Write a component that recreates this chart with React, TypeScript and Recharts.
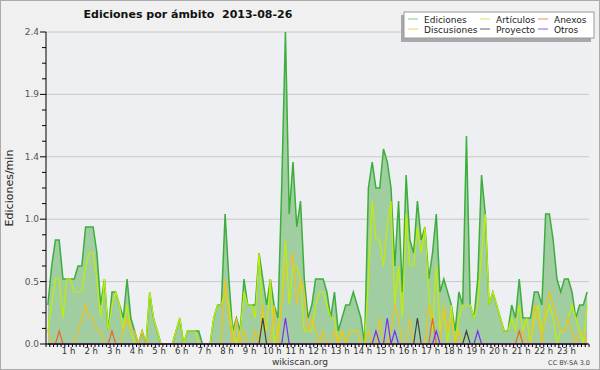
import React from "react";
import { ComposedChart, Area, Line, XAxis, YAxis, CartesianGrid } from "recharts";

// one value per 10 minutes, 00:00 -> 24:00 (edits per minute)
const ediciones = [
  0.3, 0.6, 0.8, 0.8, 0.5, 0.5, 0.5, 0.5, 0.6, 0.6, 0.9, 0.9,
  0.9, 0.7, 0.3, 0.5, 0.1, 0.4, 0.4, 0.3, 0.2, 0.5, 0.2, 0.1,
  0, 0.1, 0, 0.4, 0.2, 0.1, 0, 0, 0, 0, 0.1, 0.2,
  0, 0.1, 0.1, 0.1, 0.1, 0, 0, 0, 0.2, 0.3, 0.3, 1.0,
  0.5, 0.1, 0.2, 0.1, 0.5, 0.3, 0.3, 0.3, 0.7, 0.5, 0.3, 0.5,
  0.3, 0.2, 1.2, 2.4, 1.0, 1.4, 0.9, 1.1, 0.5, 0.2, 0.3, 0.5,
  0.5, 0.5, 0.4, 0.2, 0.4, 0.1, 0.2, 0.3, 0.3, 0.4, 0.3, 0.2,
  0, 1.2, 1.4, 1.2, 1.2, 1.5, 1.4, 1.2, 0.6, 1.1, 0.4, 1.3,
  0.8, 0.7, 1.1, 0.8, 0.9, 0.5, 0.7, 1.0, 0.4, 0.5, 0.4, 0.3,
  0.1, 0.4, 0.3, 1.6, 0.3, 0.2, 0.5, 1.3, 1.0, 0.3, 0.4, 0.3,
  0.2, 0.1, 0.1, 0.3, 0.2, 0.5, 0.2, 0.2, 0.2, 0.4, 0.4, 0.3,
  1.0, 1.0, 0.8, 0.5, 0.4, 0.5, 0.5, 0.4, 0.2, 0.3, 0.3, 0.4,
];

const articulos = [
  0.1, 0.3, 0.5, 0.5, 0.2, 0.5, 0.5, 0.4, 0.4, 0.4, 0.6, 0.7,
  0.7, 0.5, 0.2, 0.5, 0.1, 0.3, 0.4, 0.3, 0.1, 0.3, 0.1, 0,
  0, 0, 0, 0.4, 0.2, 0.1, 0, 0, 0, 0, 0.1, 0.2,
  0, 0.1, 0.1, 0.1, 0, 0, 0, 0, 0.2, 0.3, 0.3, 0.4,
  0.3, 0.1, 0, 0.1, 0.4, 0.3, 0.3, 0.2, 0.7, 0.2, 0.1, 0.5,
  0, 0.1, 0.3, 0.8, 0.3, 0.6, 0.6, 0.5, 0.1, 0.1, 0.1, 0.3,
  0.4, 0.4, 0.3, 0.2, 0.2, 0, 0.1, 0, 0.1, 0.1, 0.1, 0,
  0, 0.5, 1.1, 0.8, 0.8, 0.6, 0.9, 1.1, 0.3, 0.6, 0.2, 1.0,
  0.6, 0.6, 0.9, 0.7, 0.9, 0.4, 0.1, 0.6, 0.1, 0.3, 0, 0.3,
  0, 0.2, 0.3, 0.3, 0.3, 0.2, 0.3, 0.7, 1.0, 0.3, 0.4, 0.3,
  0.2, 0.1, 0.1, 0.2, 0.1, 0.3, 0.1, 0.2, 0, 0.2, 0.3, 0.1,
  0.2, 0.3, 0.2, 0, 0.1, 0.1, 0.2, 0.3, 0.2, 0.1, 0, 0.3,
];

const discusiones = [
  0.1, 0, 0, 0, 0, 0, 0, 0, 0.1, 0.2, 0.3, 0.2,
  0.2, 0.1, 0.1, 0, 0, 0, 0, 0, 0.1, 0.2, 0.1, 0.1,
  0, 0.1, 0, 0, 0, 0, 0, 0, 0, 0, 0, 0,
  0, 0, 0, 0, 0, 0, 0, 0, 0, 0, 0, 0.5,
  0.2, 0, 0.2, 0, 0.1, 0, 0, 0.1, 0, 0.3, 0, 0,
  0.3, 0, 0.3, 0.6, 0.6, 0.7, 0.3, 0.5, 0.4, 0.1, 0.2, 0.1,
  0, 0.1, 0, 0, 0.1, 0, 0.1, 0, 0.1, 0.1, 0.1, 0,
  0, 0.1, 0, 0, 0.2, 0, 0, 0.1, 0.3, 0.2, 0, 0,
  0.2, 0, 0, 0, 0, 0.3, 0.2, 0, 0, 0.3, 0.1, 0.2,
  0, 0.1, 0, 0, 0, 0, 0, 0, 0, 0, 0, 0,
  0, 0, 0, 0, 0, 0.1, 0.1, 0, 0, 0.3, 0.2, 0,
  0.3, 0.4, 0.3, 0.2, 0.1, 0.1, 0.2, 0.1, 0, 0.1, 0.1, 0,
];

const anexos = [
  0, 0, 0, 0.1, 0, 0, 0, 0, 0, 0, 0, 0,
  0, 0, 0, 0, 0, 0.1, 0, 0, 0, 0, 0, 0,
  0, 0, 0, 0, 0, 0, 0, 0, 0, 0, 0, 0,
  0, 0, 0, 0, 0, 0, 0, 0, 0, 0, 0, 0,
  0, 0, 0, 0, 0, 0, 0, 0, 0, 0, 0, 0,
  0, 0, 0, 0, 0, 0, 0, 0, 0, 0, 0, 0,
  0, 0, 0, 0, 0, 0, 0, 0, 0, 0, 0, 0,
  0, 0, 0, 0, 0, 0, 0, 0, 0, 0, 0, 0,
  0, 0, 0, 0, 0, 0, 0.2, 0, 0, 0, 0, 0,
  0, 0, 0, 0, 0, 0, 0, 0, 0, 0, 0, 0,
  0, 0, 0, 0, 0, 0.1, 0, 0, 0, 0, 0, 0,
  0, 0, 0, 0, 0, 0, 0, 0, 0, 0, 0, 0,
];

const proyecto = [
  0, 0, 0, 0, 0, 0, 0, 0, 0, 0, 0, 0,
  0, 0, 0, 0, 0, 0, 0, 0, 0, 0, 0, 0,
  0, 0, 0, 0, 0, 0, 0, 0, 0, 0, 0, 0,
  0, 0, 0, 0, 0, 0, 0, 0, 0, 0, 0, 0,
  0, 0, 0, 0, 0, 0, 0, 0, 0, 0.2, 0, 0,
  0, 0, 0, 0, 0, 0, 0, 0, 0, 0, 0, 0,
  0, 0, 0, 0, 0, 0, 0, 0, 0, 0, 0, 0,
  0, 0, 0, 0, 0, 0, 0, 0, 0, 0, 0, 0,
  0, 0, 0.2, 0, 0, 0, 0, 0, 0, 0, 0, 0,
  0, 0, 0, 0.1, 0, 0, 0, 0, 0, 0, 0, 0,
  0, 0, 0, 0, 0, 0, 0, 0, 0, 0, 0, 0,
  0, 0, 0, 0, 0, 0, 0, 0, 0, 0, 0, 0,
];

const otros = [
  0, 0, 0, 0, 0, 0, 0, 0, 0, 0, 0, 0,
  0, 0, 0, 0, 0, 0, 0, 0, 0, 0, 0, 0,
  0, 0, 0, 0, 0, 0, 0, 0, 0, 0, 0, 0,
  0, 0, 0, 0, 0, 0, 0, 0, 0, 0, 0, 0,
  0, 0, 0, 0, 0, 0, 0, 0, 0, 0, 0, 0,
  0, 0, 0, 0.2, 0, 0, 0, 0, 0, 0, 0, 0,
  0, 0, 0, 0, 0, 0, 0, 0, 0, 0, 0, 0,
  0, 0, 0, 0.1, 0, 0, 0.2, 0, 0.1, 0, 0, 0,
  0, 0, 0, 0, 0, 0, 0, 0.1, 0, 0, 0, 0,
  0, 0, 0, 0, 0, 0, 0.1, 0, 0, 0, 0, 0,
  0, 0, 0, 0, 0, 0, 0, 0, 0, 0, 0, 0,
  0, 0, 0, 0, 0, 0, 0, 0, 0, 0, 0, 0,
];

const hourTicks = [1, 2, 3, 4, 5, 6, 7, 8, 9, 10, 11, 12, 13, 14, 15, 16, 17, 18, 19, 20, 21, 22, 23];
const yMajor = [0, 0.48, 0.96, 1.44, 1.92, 2.4];
const yTicks = [
  0, 0.12, 0.24, 0.36, 0.48, 0.6, 0.72, 0.84, 0.96, 1.08, 1.2,
  1.32, 1.44, 1.56, 1.68, 1.8, 1.92, 2.04, 2.16, 2.28, 2.4,
];

const series = [
  { key: "articulos", name: "Artículos", color: "#c2ee00", legend: "#c8f050" },
  { key: "discusiones", name: "Discusiones", color: "#f2c21a", legend: "#f2d058" },
  { key: "anexos", name: "Anexos", color: "#f06428", legend: "#f08858" },
  { key: "proyecto", name: "Proyecto", color: "#404040", legend: "#606060" },
  { key: "otros", name: "Otros", color: "#7c2ef2", legend: "#9058f0" },
];

const data = ediciones.map((v, i) => ({
  t: (i + 0.5) / 6,
  ediciones: v,
  articulos: articulos[i],
  discusiones: discusiones[i],
  anexos: anexos[i],
  proyecto: proyecto[i],
  otros: otros[i],
}));

// a tick every 10 minutes
const xTicks = Array.from({ length: 145 }, (_, k) => k / 6);

const FONT = "DejaVu Sans";

const XTick = (props: any) => {
  const { x, y, payload } = props;
  const v = payload.value;
  const h = Math.round(v);
  const isHour = Math.abs(v - h) < 1e-6 && hourTicks.includes(h);
  return (
    <g>
      <line x1={x} x2={x} y1={y} y2={y + 3} stroke="#000" />
      {isHour && (
        <text x={x} y={y + 10} textAnchor="middle" fontSize={8.5} fill="#333" fontFamily={FONT}>
          {h} h
        </text>
      )}
    </g>
  );
};

const YTick = (props: any) => {
  const { x, y, payload } = props;
  const v = payload.value;
  const major = yMajor.some((m) => Math.abs(m - v) < 1e-6);
  return (
    <g>
      <line x1={x - (major ? 6 : 4)} x2={x} y1={y} y2={y} stroke="#000" />
      {major && (
        <text x={x - 7} y={y + 3} textAnchor="end" fontSize={9} fill="#555" fontFamily={FONT}>
          {v.toFixed(1)}
        </text>
      )}
    </g>
  );
};

const legendRows = [
  [
    { name: "Ediciones", color: "#7fcf7f" },
    { name: series[0].name, color: series[0].legend },
    { name: series[2].name, color: series[2].legend },
  ],
  [
    { name: series[1].name, color: series[1].legend },
    { name: series[3].name, color: series[3].legend },
    { name: series[4].name, color: series[4].legend },
  ],
];
const legendCols = [408, 480, 538];

export default function App() {
  return (
    <div style={{ position: "absolute", left: 0, top: 0, width: 600, height: 370, background: "#f0f0f0" }}>
      <ComposedChart
        width={600}
        height={370}
        data={data}
        margin={{ top: 32, right: 11, bottom: 0, left: 0 }}
      >
        <CartesianGrid vertical={false} horizontalValues={yMajor} stroke="#c8c8c8" fill="#eeeff2" />
        <XAxis
          dataKey="t"
          type="number"
          domain={[0, 24]}
          ticks={xTicks}
          interval={0}
          height={26}
          tickSize={0}
          tickMargin={0}
          tickLine={false}
          axisLine={{ stroke: "#000" }}
          tick={<XTick />}
        />
        <YAxis
          type="number"
          domain={[0, 2.4]}
          ticks={yTicks}
          interval={0}
          width={46}
          tickSize={0}
          tickMargin={0}
          tickLine={false}
          axisLine={{ stroke: "#000" }}
          tick={<YTick />}
        />
        <Area
          type="linear"
          dataKey="ediciones"
          stroke="#3cae3c"
          strokeWidth={1.5}
          fill="#a0cea0"
          fillOpacity={1}
          isAnimationActive={false}
          dot={false}
          activeDot={false}
        />
        {series.map((s) => (
          <Line
            key={s.key}
            type="linear"
            dataKey={s.key}
            stroke={s.color}
            strokeWidth={1.2}
            dot={false}
            activeDot={false}
            isAnimationActive={false}
          />
        ))}
      </ComposedChart>
      <svg
        width={600}
        height={370}
        style={{ position: "absolute", left: 0, top: 0, pointerEvents: "none" }}
        fontFamily={FONT}
      >
        <rect x={0.5} y={0.5} width={599} height={369} fill="none" stroke="#aaaaaa" />
        <text x={188} y={18} textAnchor="middle" fontSize={11} fontWeight="bold" fill="#111">
          Ediciones por ámbito{"\u00a0\u00a0"}2013-08-26
        </text>
        <text
          x={13}
          y={188}
          textAnchor="middle"
          fontSize={11}
          fill="#222"
          transform="rotate(-90 13 188)"
        >
          Ediciones/min
        </text>
        <rect x={401} y={15} width={190} height={27} fill="#a9a9a9" />
        <rect x={404} y={12} width={190} height={26} fill="#ffffff" stroke="#9a9a9a" />
        {legendRows.map((row, r) =>
          row.map((item, c) => (
            <g key={`${r}-${c}`}>
              <line
                x1={legendCols[c]}
                x2={legendCols[c] + 10}
                y1={19 + r * 10}
                y2={19 + r * 10}
                stroke={item.color}
                strokeWidth={1}
              />
              <text x={legendCols[c] + 16} y={22.5 + r * 10} fontSize={9} fill="#222">
                {item.name}
              </text>
            </g>
          ))
        )}
        <text x={300} y={365} textAnchor="middle" fontSize={9} fill="#333">
          wikiscan.org
        </text>
        <text x={590} y={365} textAnchor="end" fontSize={6.5} fill="#444">
          CC BY-SA 3.0
        </text>
      </svg>
    </div>
  );
}
